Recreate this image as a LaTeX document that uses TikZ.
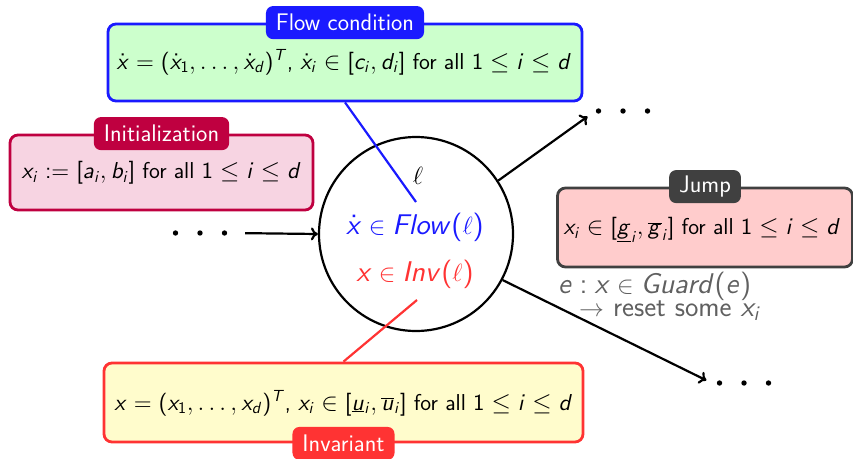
\documentclass[tikz,border=0pt]{standalone}
\usetikzlibrary{arrows.meta}
\renewcommand\familydefault{\sfdefault}
\DeclareFontFamily{OT1}{sfm}{\hyphenchar\font=-1}
\DeclareFontShape{OT1}{sfm}{m}{n}{<-> cmss10}{}
\DeclareFontShape{OT1}{sfm}{m}{sl}{<-> cmssi10}{}
\SetSymbolFont{operators}{normal}{OT1}{sfm}{m}{n}
\DeclareSymbolFont{sfletters}{OT1}{sfm}{m}{sl}
\makeatletter
\def\sfmathletters#1{\ifx#1\relax\else\DeclareMathSymbol{#1}{\mathalpha}{sfletters}{`#1}\expandafter\sfmathletters\fi}
\sfmathletters abcdefghijklmnopqrstuvwxyzABCDEFGHIJKLMNOPQRSTUVWXYZ\relax
\makeatother
\definecolor{flowblue}{HTML}{1A1AFF}
\definecolor{initred}{HTML}{BF0040}
\definecolor{initfill}{HTML}{F7D4E2}
\definecolor{invred}{HTML}{FF3333}
\definecolor{jumpgray}{HTML}{404040}
\definecolor{guardgray}{HTML}{606060}
\tikzset{
  every node/.style={font=\fontsize{24}{28}\selectfont},
  boxtext/.style={font=\fontsize{23}{27}\selectfont},
  infobox/.style={draw, rounded corners=8pt, line width=2.8pt},
  boxtag/.style={rounded corners=7pt, text=white, minimum height=33pt, inner xsep=10pt, inner ysep=3pt},
  arr/.style={-{To[length=7pt,width=13pt]}, line width=2.2pt},
  big/.style={font=\fontsize{28.5}{32}\selectfont},
}
\begin{document}
\begin{tikzpicture}[x=1pt,y=-1pt]
\useasboundingbox (0,0) rectangle (853,458);
% boxes
\node[infobox, draw=flowblue, fill=green!20, minimum width=474pt, minimum height=77pt] (flow) at (345,62.5) {};
\node[boxtext] (flowtxt) at (344,62) {$\dot x=(\dot x_1,\ldots,\dot x_d)^T$, $\dot x_i\in[c_i,d_i]$ for all $1\le i\le d$};
\node[boxtag, fill=flowblue] (flowtag) at (flow.north) {Flow condition};

\node[infobox, draw=initred, fill=initfill, minimum width=303pt, minimum height=75pt] (init) at (161.5,172.5) {};
\node[boxtext] (inittxt) at (161.5,173) {$x_i:=[a_i,b_i]$ for all $1\le i\le d$};
\node[boxtag, fill=initred] (inittag) at (init.north) {Initialization};

\node[infobox, draw=jumpgray, fill=red!20, minimum width=295pt, minimum height=79pt] (jump) at (705,227.5) {};
\node[boxtext] (jumptxt) at (702,230) {$x_i\in[\underline{g}_i,\overline{g}_i]$ for all $1\le i\le d$};
\node[boxtag, fill=jumpgray] (jumptag) at (jump.north) {Jump};

\node[infobox, draw=invred, fill=yellow!20, minimum width=479pt, minimum height=79pt] (inv) at (343.5,402.5) {};
\node[boxtext] (invtxt) at (343.5,403) {$x=(x_1,\ldots,x_d)^T$, $x_i\in[\underline{u}_i,\overline{u}_i]$ for all $1\le i\le d$};
\node[boxtag, fill=invred] (invtag) at (inv.south) {Invariant};

% location
\node[circle, draw, line width=2.2pt, minimum size=194pt, inner sep=0pt] (loc) at (416,234) {};
\node[big] (ell) at (418,176) {$\ell$};
\node[big, text=flowblue] (flowin) at (415,227) {$\dot x\in Flow(\ell)$};
\node[big, text=invred] (invin) at (415,274) {$x\in Inv(\ell)$};

\coordinate (flowend) at (416,202);
\coordinate (invend) at (417,300);
\draw[flowblue, line width=2.2pt] (flow.south) -- (flowend);
\draw[invred, line width=2.2pt] (inv.north) -- (invend);

% dots and arrows
\node[minimum width=64pt, minimum height=6pt, inner sep=0pt] (dotsL) at (200,233) {};
\node[minimum width=64pt, minimum height=6pt, inner sep=0pt] (dotsTR) at (623,111) {};
\node[minimum width=64pt, minimum height=6pt, inner sep=0pt] (dotsBR) at (744,383) {};
\foreach \n in {dotsL,dotsTR,dotsBR}
  \foreach \d in {-24.5,0,24.5}
    \fill ([xshift=\d pt]\n.center) circle[radius=2.7pt];
\draw[arr, shorten <=13pt] (dotsL.east) -- (loc.west);
\draw[arr, shorten >=4pt] (loc.33) -- (dotsTR.south west);
\draw[arr, shorten >=6pt] (loc.-28) -- (dotsBR.west);

\node[big, text=guardgray, anchor=base west, inner sep=0pt] (guard1) at (558,293) {$e:x\in Guard(e)$};
\node[big, text=guardgray, anchor=base west, inner sep=0pt] (guard2) at (579,316) {$\rightarrow$\ reset some $x_i$};
\end{tikzpicture}
\end{document}
